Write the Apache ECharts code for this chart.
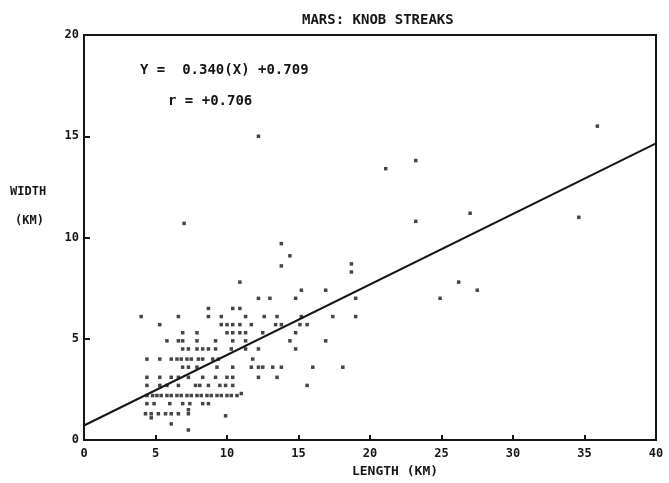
<!DOCTYPE html>
<html>
<head>
<meta charset="utf-8">
<script src="https://cdn.jsdelivr.net/npm/echarts@6/dist/echarts.min.js"></script>
<style>
  html,body{margin:0;padding:0;background:#fff;}
  #chart{width:669px;height:483px;}
</style>
</head>
<body>
<div id="chart"></div>
<script>
// length (km), width (km)
const streaks=[
  [4.0,6.1],[6.6,6.1],[8.7,6.1],[9.6,6.1],[11.3,6.1],[12.6,6.1],[13.5,6.1],[15.2,6.1],[17.4,6.1],[19.0,6.1],
  [8.7,6.5],[10.4,6.5],[10.9,6.5],
  [12.2,7.0],[13.0,7.0],[14.8,7.0],[19.0,7.0],
  [5.3,5.7],[9.6,5.7],[10.0,5.7],[10.4,5.7],[10.9,5.7],[11.7,5.7],[13.4,5.7],[13.8,5.7],[15.1,5.7],[15.6,5.7],
  [6.9,5.3],[7.9,5.3],[10.0,5.3],[10.4,5.3],[10.9,5.3],[11.3,5.3],[12.5,5.3],[14.8,5.3],
  [5.8,4.9],[6.6,4.9],[6.9,4.9],[7.9,4.9],[9.2,4.9],[10.4,4.9],[11.3,4.9],[14.4,4.9],[16.9,4.9],
  [6.9,4.5],[7.3,4.5],[7.9,4.5],[8.3,4.5],[8.7,4.5],[9.2,4.5],[10.3,4.5],[11.3,4.5],[12.2,4.5],[14.8,4.5],
  [4.4,4.0],[5.3,4.0],[6.1,4.0],[6.5,4.0],[6.8,4.0],[7.2,4.0],[7.5,4.0],[8.0,4.0],[8.3,4.0],[9.0,4.0],[9.4,4.0],[11.8,4.0],
  [6.9,3.6],[7.3,3.6],[7.9,3.6],[9.3,3.6],[10.4,3.6],[11.7,3.6],[12.2,3.6],[12.5,3.6],[13.2,3.6],[13.8,3.6],[16.0,3.6],[18.1,3.6],
  [4.4,3.1],[5.3,3.1],[6.1,3.1],[6.6,3.1],[7.3,3.1],[8.3,3.1],[9.2,3.1],[10.0,3.1],[10.4,3.1],[12.2,3.1],[13.5,3.1],
  [4.4,2.7],[5.3,2.7],[5.8,2.7],[6.6,2.7],[7.8,2.7],[8.1,2.7],[8.7,2.7],[9.5,2.7],[9.9,2.7],[10.4,2.7],[15.6,2.7],
  [4.4,2.2],[4.8,2.2],[5.1,2.2],[5.4,2.2],[5.8,2.2],[6.1,2.2],[6.5,2.2],[6.8,2.2],[7.2,2.2],[7.5,2.2],
  [7.9,2.2],[8.2,2.2],[8.6,2.2],[8.9,2.2],[9.3,2.2],[9.6,2.2],[10.0,2.2],[10.3,2.2],[10.7,2.2],[11.0,2.3],
  [4.4,1.8],[4.9,1.8],[6.0,1.8],[6.9,1.8],[7.4,1.8],[8.3,1.8],[8.7,1.8],
  [4.3,1.3],[4.7,1.3],[5.2,1.3],[5.7,1.3],[6.1,1.3],[6.6,1.3],[7.3,1.3],[4.7,1.1],[7.3,1.5],[9.9,1.2],
  [6.1,0.8],[7.3,0.5],
  [12.2,15.0],[7.0,10.7],[13.8,9.7],[14.4,9.1],[13.8,8.6],[18.7,8.7],[18.7,8.3],[10.9,7.8],[15.2,7.4],[16.9,7.4],
  [35.9,15.5],[23.2,13.8],[21.1,13.4],[23.2,10.8],[27.0,11.2],[34.6,11.0],[26.2,7.8],[27.5,7.4],[24.9,7.0]
];
// fitted line as drawn
const fitLine=[[0,0.72],[40,14.65]];
const titleText="MARS: KNOB STREAKS";
const eqText="Y =  0.340(X) +0.709";
const rText="r = +0.706";

const mono="'DejaVu Sans Mono', monospace";
const ink="#161616";

const chart=echarts.init(document.getElementById("chart"),null,{renderer:"canvas"});
chart.setOption({
  backgroundColor:"#fff",
  animation:false,
  title:{
    text:titleText,left:297,top:8,
    textStyle:{fontFamily:mono,fontSize:14,fontWeight:"bold",color:ink}
  },
  grid:{left:84,right:13,top:35,bottom:39,show:true,borderColor:ink,borderWidth:2},
  xAxis:{
    type:"value",min:0,max:40,interval:5,
    name:"LENGTH (KM)",nameLocation:"middle",nameGap:22,
    nameTextStyle:{fontFamily:mono,fontSize:13,fontWeight:"bold",color:ink,padding:[0,0,0,50]},
    axisLine:{lineStyle:{color:ink,width:2}},
    axisTick:{inside:true,length:5,lineStyle:{color:ink,width:2}},
    axisLabel:{fontFamily:mono,fontSize:12,fontWeight:"bold",color:ink,margin:8},
    splitLine:{show:false}
  },
  yAxis:{
    type:"value",min:0,max:20,interval:5,
    axisLine:{lineStyle:{color:ink,width:2}},
    axisTick:{inside:true,length:6,lineStyle:{color:ink,width:2}},
    axisLabel:{fontFamily:mono,fontSize:12,fontWeight:"bold",color:ink,margin:5},
    splitLine:{show:false}
  },
  graphic:[
    {type:"text",left:10,top:186,style:{text:"WIDTH",font:"bold 12px "+mono,fill:ink}},
    {type:"text",left:15,top:215,style:{text:"(KM)",font:"bold 12px "+mono,fill:ink}},
    {type:"text",left:140,top:63,style:{text:eqText,font:"bold 14px "+mono,fill:ink}},
    {type:"text",left:168,top:94,style:{text:rText,font:"bold 14px "+mono,fill:ink}}
  ],
  series:[
    {
      type:"scatter",data:streaks,symbol:"rect",symbolSize:3.5,
      itemStyle:{color:ink},silent:true
    },
    {
      type:"line",data:fitLine,showSymbol:false,
      lineStyle:{color:ink,width:2},silent:true
    }
  ]
});
</script>
</body>
</html>
